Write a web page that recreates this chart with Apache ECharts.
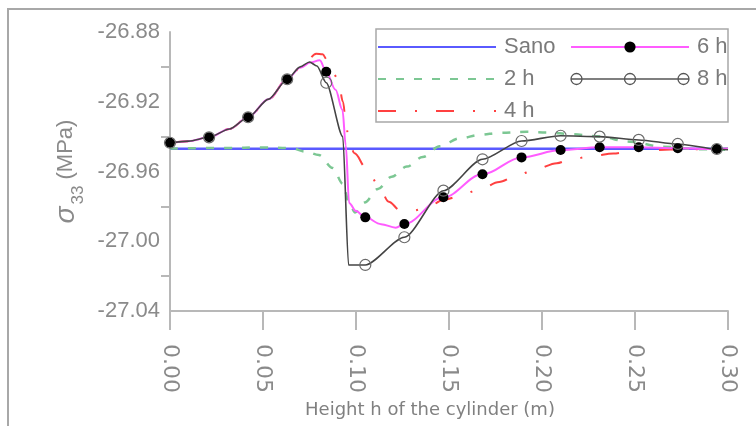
<!DOCTYPE html>
<html style="height: 100%">
<head>
<meta charset="utf-8">
</head>
<body style="height: 100%; margin: 0; background: #fff">
<div id="container" style="width: 756px; height: 426px"></div>
<script type="text/javascript" src="https://cdn.jsdelivr.net/npm/echarts@6.0.0/dist/echarts.min.js"></script>
<script type="text/javascript">
// sigma_33 along the cylinder height
var markH = [0, 0.021, 0.042, 0.063, 0.084, 0.105, 0.126, 0.147, 0.168, 0.189, 0.210, 0.231, 0.252, 0.273, 0.294];

var sanoH = [0, 0.30];
var sanoS = [-26.947, -26.947];

var h2H = [0, 0.03, 0.05, 0.065, 0.073, 0.080, 0.0875, 0.0929, 0.0965, 0.0995, 0.1046, 0.1118, 0.1192, 0.1273,
           0.1359, 0.145, 0.1558, 0.1665, 0.1773, 0.1917, 0.2024, 0.2166, 0.2294, 0.2473, 0.2651, 0.2832, 0.30];
var h2S = [-26.9468, -26.9465, -26.9462, -26.9466, -26.9486, -26.9505, -26.9580, -26.9670, -26.9786, -26.9835,
           -26.9778, -26.9700, -26.9630, -26.9572, -26.9517, -26.9455, -26.9410, -26.9390, -26.9378, -26.9372,
           -26.9376, -26.9386, -26.9398, -26.9429, -26.9458, -26.9472, -26.9475];

var h4H = [0, 0.010, 0.021, 0.032, 0.042, 0.053, 0.063, 0.072, 0.0786, 0.082, 0.0845, 0.0903, 0.093, 0.0948,
           0.0965, 0.0992, 0.1055, 0.1118, 0.1176, 0.1235, 0.130, 0.1378, 0.147, 0.155, 0.1666, 0.177, 0.1854,
           0.196, 0.208, 0.215, 0.2267, 0.2384, 0.2465, 0.258, 0.28, 0.30];
var h4S = [-26.9435, -26.9426, -26.9404, -26.9356, -26.9289, -26.9185, -26.9071, -26.8985, -26.8925, -26.8928,
           -26.896, -26.9066, -26.920, -26.935, -26.944, -26.9496, -26.958, -26.9672, -26.9773, -26.982, -26.9826,
           -26.981, -26.9763, -26.9744, -26.9702, -26.966, -26.963, -26.959, -26.9552, -26.9532, -26.9512,
           -26.9497, -26.9487, -26.9477, -26.9472, -26.947];

var h6H = [0, 0.010, 0.021, 0.032, 0.042, 0.053, 0.063, 0.070, 0.0755, 0.0805, 0.084, 0.089, 0.0927, 0.0945,
           0.0963, 0.100, 0.105, 0.1135, 0.1213, 0.126, 0.147, 0.168, 0.189, 0.210, 0.231, 0.252,
           0.273, 0.294, 0.300];
var h6S = [-26.9435, -26.9426, -26.9404, -26.9356, -26.9289, -26.9185, -26.9071, -26.9005, -26.8975, -26.8962,
           -26.9028, -26.9131, -26.9246, -26.9450, -26.9780, -26.9827, -26.9863, -26.9902, -26.9922, -26.9901,
           -26.9748, -26.9616, -26.9519, -26.9477, -26.9461, -26.9461, -26.9467, -26.9471, -26.9471];

var h8H = [0, 0.010, 0.021, 0.032, 0.042, 0.053, 0.063, 0.070, 0.075, 0.079, 0.084, 0.0929, 0.0960, 0.105,
           0.126, 0.147, 0.168, 0.189, 0.210, 0.231, 0.252, 0.273, 0.294, 0.300];
var h8S = [-26.9435, -26.9426, -26.9404, -26.9356, -26.9289, -26.9185, -26.9071, -26.9000, -26.8972, -26.8995,
           -26.9091, -26.9400, -27.0136, -27.0136, -26.9977, -26.9710, -26.9530, -26.9425, -26.9395, -26.9400,
           -26.9419, -26.9442, -26.9471, -26.9475];

var grey = '#8a8a8a';
var axisGrey = '#b8b8b8';

// legend sample for 8 h: line with three open circles
var ring = 'M11 5.5 A5.5 5.5 0 1 1 0 5.5 A5.5 5.5 0 1 1 11 5.5 Z '
         + 'M64.5 5.5 A5.5 5.5 0 1 1 53.5 5.5 A5.5 5.5 0 1 1 64.5 5.5 Z '
         + 'M118 5.5 A5.5 5.5 0 1 1 107 5.5 A5.5 5.5 0 1 1 118 5.5 Z';
var icon8 = 'path://M0 5.5 L118 5.5 ' + ring;

function pairs(hs, ss) {
    return hs.map(function (h, i) { return [h, ss[i]]; });
}
// points that are not at a marker position get no symbol
function withMarks(hs, ss) {
    return hs.map(function (h, i) {
        var isMark = markH.some(function (m) { return Math.abs(m - h) < 1e-9; });
        return isMark ? [h, ss[i]] : { value: [h, ss[i]], symbol: 'none' };
    });
}

var dom = document.getElementById('container');
var myChart = echarts.init(dom, null, { renderer: 'canvas' });

var legendText = {
    color: '#7a7a7a',
    fontSize: 22,
    lineHeight: 21,
    fontFamily: 'Liberation Sans, Arial, sans-serif',
    padding: [0, 0, 0, 3]
};

var option = {
    animation: false,
    backgroundColor: '#fff',
    grid: { left: 170, right: 28, top: 32, bottom: 115, outerBoundsMode: 'none' },
    graphic: [
        {
            type: 'polyline',
            shape: { points: [[8, 426], [8, 9], [756, 9]] },
            style: { stroke: '#a8a8a8', lineWidth: 2, fill: null }
        },
        {
            type: 'rect',
            shape: { x: 376, y: 29, width: 352, height: 93 },
            style: { stroke: '#a8a8a8', lineWidth: 1.5, fill: null }
        }
    ],
    legend: [
        {
            data: [
                { name: 'Sano', itemStyle: { opacity: 0 } },
                { name: '2 h', itemStyle: { opacity: 0 } },
                { name: '4 h', itemStyle: { opacity: 0 } }
            ],
            orient: 'vertical',
            left: 377, top: 36,
            padding: 0,
            itemWidth: 118, itemHeight: 14, itemGap: 10,
            selectedMode: false,
            textStyle: legendText
        },
        {
            data: [
                '6 h',
                {
                    name: '8 h', icon: icon8,
                    itemStyle: { color: 'rgba(255,255,255,0)', borderColor: '#555', borderWidth: 1.3 }
                }
            ],
            orient: 'vertical',
            left: 570, top: 36,
            padding: 0,
            itemWidth: 118, itemHeight: 14, itemGap: 10,
            selectedMode: false,
            textStyle: legendText
        }
    ],
    xAxis: {
        type: 'value',
        min: 0, max: 0.30, interval: 0.05,
        name: 'Height h of the cylinder (m)',
        nameLocation: 'middle',
        nameGap: 79,
        nameTextStyle: { color: '#808080', fontSize: 18, fontFamily: 'DejaVu Sans', padding: [0, 38, 0, 0] },
        axisLine: { onZero: false, lineStyle: { color: axisGrey, width: 2 } },
        axisTick: { length: 19, lineStyle: { color: axisGrey, width: 2 } },
        axisLabel: {
            rotate: -90, margin: 33, color: grey, fontSize: 22, fontFamily: 'DejaVu Sans',
            formatter: function (v) { return v.toFixed(2); }
        },
        splitLine: { show: false }
    },
    yAxis: {
        type: 'value',
        min: -27.04, max: -26.88, interval: 0.04,
        name: '{s|σ}{sub|33} (MPa)',
        nameLocation: 'middle',
        nameGap: 80,
        nameRotate: 90,
        nameTextStyle: {
            color: grey, fontSize: 22, fontFamily: 'Liberation Sans',
            rich: {
                s: { color: grey, fontSize: 28, fontStyle: 'italic', fontFamily: 'Liberation Sans' },
                sub: { color: grey, fontSize: 17, fontFamily: 'Liberation Sans', padding: [24, 0, 0, 2] }
            }
        },
        axisLine: { show: true, lineStyle: { color: axisGrey, width: 2 } },
        axisTick: { show: false },
        minorTick: { show: true, splitNumber: 2, length: 9, lineStyle: { color: axisGrey, width: 2 } },
        axisLabel: {
            color: grey, fontSize: 22, fontFamily: 'Liberation Sans', margin: 10,
            formatter: function (v) { return v.toFixed(2); }
        },
        splitLine: { show: false }
    },
    series: [
        {
            name: 'Sano', type: 'line', symbol: 'none',
            data: pairs(sanoH, sanoS),
            itemStyle: { color: '#5a5aff' },
            lineStyle: { color: '#5a5aff', width: 2.5 }
        },
        {
            name: '2 h', type: 'line', symbol: 'none', smooth: 0.35, smoothMonotone: 'x',
            data: pairs(h2H, h2S),
            itemStyle: { color: '#7cc793' },
            lineStyle: { color: '#7cc793', width: 2.5, type: [8, 10] }
        },
        {
            name: '4 h', type: 'line', symbol: 'none', smooth: 0.35, smoothMonotone: 'x',
            data: pairs(h4H, h4S),
            itemStyle: { color: '#ff4040' },
            lineStyle: { color: '#ff4040', width: 2, type: [18, 19, 2, 19] }
        },
        {
            name: '6 h', type: 'line', symbol: 'circle', symbolSize: 10, smooth: 0.35, smoothMonotone: 'x',
            data: withMarks(h6H, h6S),
            itemStyle: { color: '#000' },
            lineStyle: { color: '#ff5cff', width: 2 }
        },
        {
            name: '8 h', type: 'line', symbol: 'circle', symbolSize: 11, smooth: 0.25, smoothMonotone: 'x',
            data: withMarks(h8H, h8S),
            itemStyle: { color: 'rgba(255,255,255,0)', borderColor: '#6a6a6a', borderWidth: 1.2 },
            lineStyle: { color: '#444', width: 1.6 }
        }
    ]
};

myChart.setOption(option);
</script>
</body>
</html>
